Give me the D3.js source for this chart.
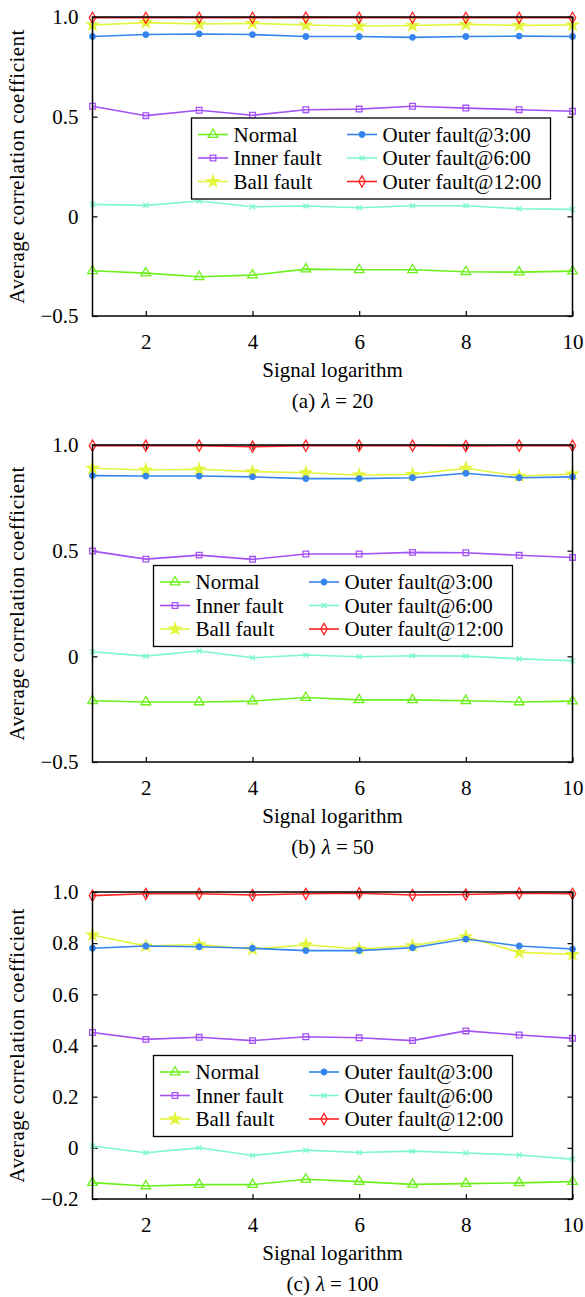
<!DOCTYPE html>
<html>
<head>
<meta charset="utf-8">
<script src="https://cdn.jsdelivr.net/npm/d3@7"></script>
<style>
  body { margin: 0; background: #fff; }
  svg text { font-family: "Liberation Serif", "Times New Roman", Times, serif; fill: #000; }
</style>
</head>
<body>
<div class="section"></div>
<script>
// ---- data ----
var xValues = [1, 2, 3, 4, 5, 6, 7, 8, 9, 10];
var xTicks = [2, 4, 6, 8, 10];
var seriesNames = ["Normal", "Inner fault", "Ball fault", "Outer fault@3:00", "Outer fault@6:00", "Outer fault@12:00"];
var seriesColors = ["#6cf01c", "#a552f5", "#e3f53c", "#3585ee", "#7df7d2", "#ff2222"];
var seriesMarkers = ["triangle", "square", "star", "dot", "times", "diamond"];

// (a) lambda = 20
var normalA  = [-0.273, -0.285, -0.303, -0.295, -0.265, -0.268, -0.268, -0.278, -0.280, -0.275];
var innerA   = [0.552, 0.505, 0.532, 0.507, 0.535, 0.538, 0.552, 0.543, 0.535, 0.527];
var ballA    = [0.960, 0.972, 0.965, 0.968, 0.960, 0.955, 0.957, 0.963, 0.958, 0.960];
var outer3A  = [0.902, 0.912, 0.915, 0.912, 0.902, 0.902, 0.898, 0.902, 0.904, 0.902];
var outer6A  = [0.060, 0.055, 0.077, 0.048, 0.052, 0.043, 0.053, 0.053, 0.038, 0.035];
var outer12A = [0.996, 0.996, 0.996, 0.996, 0.997, 0.996, 0.996, 0.996, 0.996, 0.996];
var yTicksA  = [-0.5, 0, 0.5, 1.0];

// (b) lambda = 50
var normalB  = [-0.210, -0.216, -0.216, -0.212, -0.195, -0.206, -0.206, -0.210, -0.216, -0.212];
var innerB   = [0.498, 0.460, 0.479, 0.459, 0.484, 0.484, 0.492, 0.490, 0.478, 0.468];
var ballB    = [0.890, 0.882, 0.885, 0.874, 0.869, 0.858, 0.861, 0.890, 0.853, 0.863];
var outer3B  = [0.855, 0.853, 0.853, 0.849, 0.841, 0.841, 0.845, 0.866, 0.845, 0.849];
var outer6B  = [0.022, 0.001, 0.025, -0.007, 0.006, -0.002, 0.003, 0.001, -0.012, -0.021];
var outer12B = [0.997, 0.997, 0.997, 0.992, 0.997, 0.997, 0.997, 0.995, 0.997, 0.997];
var yTicksB  = [-0.5, 0, 0.5, 1.0];

// (c) lambda = 100
var normalC  = [-0.136, -0.149, -0.144, -0.144, -0.123, -0.132, -0.143, -0.140, -0.137, -0.132];
var innerC   = [0.451, 0.424, 0.432, 0.419, 0.434, 0.430, 0.419, 0.457, 0.441, 0.428];
var ballC    = [0.832, 0.789, 0.795, 0.776, 0.794, 0.777, 0.790, 0.825, 0.764, 0.756];
var outer3C  = [0.780, 0.789, 0.786, 0.780, 0.771, 0.771, 0.782, 0.816, 0.789, 0.777];
var outer6C  = [0.007, -0.019, 0.000, -0.030, -0.009, -0.018, -0.013, -0.020, -0.028, -0.044];
var outer12C = [0.986, 0.993, 0.993, 0.988, 0.993, 0.995, 0.988, 0.990, 0.995, 0.993];
var yTicksC  = [-0.2, 0, 0.2, 0.4, 0.6, 0.8, 1.0];

// ---- drawing ----
var width = 585;
var height = 1297;
var left = 92.5, right = 572.5;   // plot area edges
var serif = "Liberation Serif, Times New Roman, serif";
var fs = 21;

var svg = d3.select(".section")
    .append("svg")
    .attr("width", width)
    .attr("height", height)
    .attr("font-family", serif);

// marker for "x"
var symbolTimesCustom = {
    draw: function(ctx, size) {
        var r = Math.sqrt(size) / 2;
        ctx.moveTo(-r, -r); ctx.lineTo(r, r);
        ctx.moveTo(r, -r); ctx.lineTo(-r, r);
    }
};

function markerPath(kind) {
    if (kind == "triangle") return d3.symbol().type(d3.symbolTriangle).size(40)();
    if (kind == "square") return d3.symbol().type(d3.symbolSquare).size(32)();
    if (kind == "star") return d3.symbol().type(d3.symbolStar).size(40)();
    if (kind == "dot") return d3.symbol().type(d3.symbolCircle).size(24)();
    if (kind == "times") return d3.symbol().type(symbolTimesCustom).size(26)();
    return d3.symbol().type(d3.symbolDiamond).size(36)();
}

function markerFill(kind, color) {
    return (kind == "star" || kind == "dot") ? color : "none";
}

function fmt(v) {
    if (v == 0) return "0";
    return (v < 0 ? "\u2212" : "") + Math.abs(v).toFixed(1);
}

function drawPanel(p) {
    var g = svg.append("g");
    var x = d3.scaleLinear().domain([1, 10]).range([left, right]);
    var y = d3.scaleLinear().domain([p.yTicks[0], 1.0]).range([p.bottom, p.top]);

    // axes (ticks pointing inward on all sides)
    var ax = [
        d3.axisBottom(x).tickValues(xTicks).tickSizeInner(-5).tickSizeOuter(0).tickPadding(18),
        d3.axisTop(x).tickValues(xTicks).tickSizeInner(-5).tickSizeOuter(0).tickFormat(""),
        d3.axisLeft(y).tickValues(p.yTicks).tickSizeInner(-5).tickSizeOuter(0).tickPadding(14).tickFormat(fmt),
        d3.axisRight(y).tickValues(p.yTicks).tickSizeInner(-5).tickSizeOuter(0).tickFormat("")
    ];
    var pos = ["translate(0," + p.bottom + ")", "translate(0," + p.top + ")",
               "translate(" + left + ",0)", "translate(" + right + ",0)"];
    ax.forEach(function(a, i) {
        var s = g.append("g").attr("transform", pos[i]).call(a);
        s.attr("font-family", serif).attr("font-size", fs);
        s.select(".domain").remove();
        s.selectAll("line").attr("stroke", "#000").attr("stroke-width", 1.2);
        s.selectAll("text").attr("font-size", fs).attr("font-family", serif);
    });

    // series lines + markers
    var line = d3.line()
        .x(function(d, i) { return x(xValues[i]); })
        .y(function(d) { return y(d); });

    p.series.forEach(function(vals, k) {
        var c = seriesColors[k];
        g.append("path").datum(vals)
            .attr("d", line)
            .attr("fill", "none")
            .attr("stroke", c)
            .attr("stroke-width", 1.6);
        g.selectAll(".m" + k).data(vals).enter().append("path")
            .attr("class", "m" + k)
            .attr("d", markerPath(seriesMarkers[k]))
            .attr("transform", function(d, i) { return "translate(" + x(xValues[i]) + "," + y(d) + ")"; })
            .attr("fill", markerFill(seriesMarkers[k], c))
            .attr("stroke", c)
            .attr("stroke-width", 1.3);
    });

    // box
    g.append("rect")
        .attr("x", left).attr("y", p.top)
        .attr("width", right - left).attr("height", p.bottom - p.top)
        .attr("fill", "none").attr("stroke", "#000").attr("stroke-width", 1.5);

    // legend
    var lg = g.append("g").attr("transform", "translate(" + p.legend[0] + "," + p.legend[1] + ")");
    lg.append("rect").attr("width", 359).attr("height", 81)
        .attr("fill", "#fff").attr("stroke", "#000").attr("stroke-width", 1.3);
    seriesNames.forEach(function(name, k) {
        var col = Math.floor(k / 3), row = k % 3;
        var lx = col == 0 ? 6.5 : 155.5;
        var ly = 16.5 + row * 23.5;
        var c = seriesColors[k];
        lg.append("line").attr("x1", lx).attr("x2", lx + 30).attr("y1", ly).attr("y2", ly)
            .attr("stroke", c).attr("stroke-width", 1.6);
        lg.append("path").attr("d", markerPath(seriesMarkers[k]))
            .attr("transform", "translate(" + (lx + 15) + "," + ly + ")")
            .attr("fill", markerFill(seriesMarkers[k], c))
            .attr("stroke", c).attr("stroke-width", 1.3);
        lg.append("text").attr("x", lx + 35.5).attr("y", ly).attr("dy", "0.35em")
            .attr("font-family", serif).attr("font-size", fs).text(name);
    });

    // titles
    var cx = (left + right) / 2;
    g.append("text").attr("x", cx).attr("y", p.bottom + 61)
        .attr("text-anchor", "middle").attr("font-family", serif).attr("font-size", fs)
        .text("Signal logarithm");
    g.append("text")
        .attr("transform", "translate(24," + (p.top + p.bottom) / 2 + ") rotate(-90)")
        .attr("text-anchor", "middle").attr("font-family", serif).attr("font-size", fs)
        .attr("letter-spacing", 0.45)
        .text("Average correlation coefficient");
    var cap = g.append("text").attr("x", cx).attr("y", p.bottom + 92)
        .attr("text-anchor", "middle").attr("font-family", serif).attr("font-size", fs);
    cap.append("tspan").text("(" + p.tag + ")");
    cap.append("tspan").attr("dx", 6).attr("font-style", "italic").text("\u03bb");
    cap.append("tspan").attr("dx", 5).text("=");
    cap.append("tspan").attr("dx", 5).text(p.lambda);
}

drawPanel({ top: 17, bottom: 316, yTicks: yTicksA, legend: [191.5, 118], tag: "a", lambda: 20,
    series: [normalA, innerA, ballA, outer3A, outer6A, outer12A] });
drawPanel({ top: 445, bottom: 762, yTicks: yTicksB, legend: [153.5, 565.5], tag: "b", lambda: 50,
    series: [normalB, innerB, ballB, outer3B, outer6B, outer12B] });
drawPanel({ top: 892, bottom: 1199, yTicks: yTicksC, legend: [153.5, 1055.5], tag: "c", lambda: 100,
    series: [normalC, innerC, ballC, outer3C, outer6C, outer12C] });
</script>
</body>
</html>
